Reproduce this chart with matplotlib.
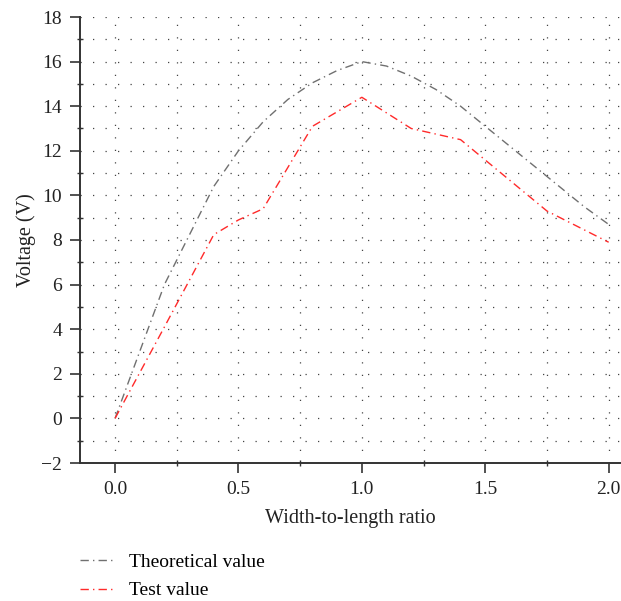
import numpy as np
import matplotlib.pyplot as plt
from matplotlib.ticker import MultipleLocator

# data
ratio_theory = [0.0, 0.1, 0.2, 0.3, 0.4, 0.5, 0.6, 0.7, 0.8, 0.9, 1.0,
                1.1, 1.2, 1.3, 1.4, 1.5, 1.6, 1.7, 1.8, 1.9, 2.0]
volt_theory = [0.0, 3.0, 6.0, 8.2, 10.4, 12.0, 13.3, 14.3, 15.05, 15.6, 16.0,
               15.8, 15.35, 14.75, 14.0, 13.1, 12.2, 11.3, 10.4, 9.5, 8.7]

ratio_test = [0.0, 0.2, 0.4, 0.5, 0.6, 0.8, 1.0, 1.2, 1.4, 1.75, 2.0]
volt_test = [0.0, 4.1, 8.24, 8.9, 9.4, 13.1, 14.4, 13.0, 12.5, 9.3, 7.9]

plt.rcParams['font.family'] = ['Liberation Serif', 'DejaVu Serif']

fig = plt.figure(figsize=(6.21, 6.01), dpi=100)
ax = fig.add_axes([80 / 621, 1 - 463 / 601, 1 - 80 / 621, 446 / 601])

dashdot = (0, (6, 3, 1, 3))
ax.plot(ratio_theory, volt_theory, color='#707070', lw=1.0, ls=dashdot,
        label='Theoretical value')
ax.plot(ratio_test, volt_test, color='#ff2a2a', lw=1.0, ls=dashdot,
        label='Test value')

ax.set_xlim(-0.142, 2.05)
ax.set_ylim(-2, 18)
ax.xaxis.set_major_locator(MultipleLocator(0.5))
ax.xaxis.set_minor_locator(MultipleLocator(0.25))
ax.yaxis.set_major_locator(MultipleLocator(2))
ax.yaxis.set_minor_locator(MultipleLocator(1))
ax.xaxis.set_major_formatter(lambda v, p: f'{v:.1f}')
ax.yaxis.set_major_formatter(lambda v, p: f'{v:.0f}'.replace('-', '\u2212'))

ax.grid(which='both', color='#444444', lw=0.9, ls=(0, (1, 9)))
ax.set_axisbelow(True)

for s in ('top', 'right'):
    ax.spines[s].set_visible(False)
for s in ('left', 'bottom'):
    ax.spines[s].set_color('#333333')
    ax.spines[s].set_linewidth(1.4)

ax.tick_params(which='major', direction='out', length=7, width=1.2,
               color='#333333', labelsize=14, labelcolor='#222222', pad=6)
ax.tick_params(which='minor', direction='inout', length=5, width=1.0,
               color='#333333')

ax.set_xlabel('Width-to-length ratio', fontsize=14.5, color='#222222', labelpad=8)
ax.set_ylabel('Voltage (V)', fontsize=14.5, color='#222222', labelpad=4)

ax.legend(loc='upper left', bbox_to_anchor=(0.0, -0.203), frameon=False,
          fontsize=14, handlelength=1.8, handletextpad=0.7,
          labelspacing=0.55, borderaxespad=0, borderpad=0)

fig.savefig('out.png', dpi=100)
